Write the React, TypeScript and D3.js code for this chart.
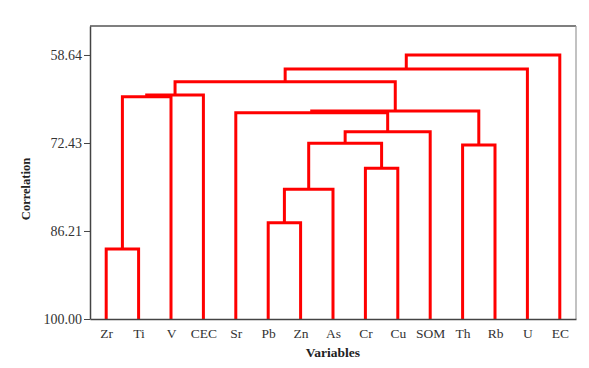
import React, { useEffect, useRef } from "react";
import { select, scaleLinear, scalePoint, axisLeft, axisBottom } from "d3";

// leaf order along the x axis
const variables = ["Zr", "Ti", "V", "CEC", "Sr", "Pb", "Zn", "As", "Cr", "Cu", "SOM", "Th", "Rb", "U", "EC"];

// merges: ids 0..14 are leaves, each merge creates id 15, 16, ...
const mergeLeft = [0, 5, 16, 8, 11, 17, 20, 4, 22, 15, 24, 25, 26, 27];
const mergeRight = [1, 6, 7, 9, 12, 18, 10, 21, 19, 2, 3, 23, 13, 14];
const mergeLevel = [89.03, 84.91, 79.68, 76.39, 72.74, 72.48, 70.65, 67.68, 67.41, 65.17, 64.91, 62.82, 60.83, 58.64];

const yTicks = [58.64, 72.43, 86.21, 100.0];

export default function App() {
  const svgRef = useRef(null);

  useEffect(() => {
    const W = 589;
    const H = 368;
    const M = { left: 90, right: 13, top: 26, bottom: 49 };

    const svg = select(svgRef.current);
    svg.selectAll("*").remove();
    svg.attr("width", W).attr("height", H);

    const xScale = scalePoint().domain(variables).range([M.left, W - M.right]).padding(0.5);
    const yScale = scaleLinear().domain([100, 54.1]).range([H - M.bottom, M.top]);

    // node positions
    const nodeX = variables.map((v) => xScale(v));
    const nodeLevel = variables.map(() => 100);
    mergeLeft.forEach((a, i) => {
      const b = mergeRight[i];
      nodeX.push((nodeX[a] + nodeX[b]) / 2);
      nodeLevel.push(mergeLevel[i]);
    });

    // frame
    svg.append("line")
      .attr("x1", M.left).attr("x2", W - M.right)
      .attr("y1", M.top).attr("y2", M.top)
      .attr("stroke", "#555").attr("stroke-width", 1.5);
    svg.append("line")
      .attr("x1", W - M.right).attr("x2", W - M.right)
      .attr("y1", M.top).attr("y2", H - M.bottom)
      .attr("stroke", "#999").attr("stroke-width", 1.2);

    // links
    const g = svg.append("g");
    mergeLeft.forEach((a, i) => {
      const b = mergeRight[i];
      const yh = yScale(mergeLevel[i]);
      const d = `M${nodeX[a]},${yScale(nodeLevel[a])}V${yh}H${nodeX[b]}V${yScale(nodeLevel[b])}`;
      g.append("path")
        .attr("d", d)
        .attr("fill", "none")
        .attr("stroke", "#f00")
        .attr("stroke-width", 3)
        .attr("stroke-linejoin", "miter");
    });

    // axes
    const yAxis = svg.append("g")
      .attr("transform", `translate(${M.left},0)`)
      .call(axisLeft(yScale).tickValues(yTicks).tickFormat((d) => d.toFixed(2)).tickSize(6).tickSizeOuter(0));
    yAxis.select(".domain").attr("stroke", "#444").attr("stroke-width", 1.5);
    yAxis.selectAll(".tick line").attr("stroke", "#444");
    yAxis.selectAll(".tick text")
      .attr("font-family", "'Liberation Serif', serif")
      .attr("font-size", 14)
      .attr("fill", "#333")
      .attr("x", -8);

    const xAxis = svg.append("g")
      .attr("transform", `translate(0,${H - M.bottom})`)
      .call(axisBottom(xScale).tickSize(0).tickSizeOuter(0));
    xAxis.select(".domain").attr("stroke", "#444").attr("stroke-width", 1.5);
    xAxis.selectAll(".tick text")
      .attr("font-family", "'Liberation Serif', serif")
      .attr("font-size", 13.5)
      .attr("fill", "#333")
      .attr("dy", "0")
      .attr("y", 19);

    // axis titles
    svg.append("text")
      .text("Variables")
      .attr("x", (M.left + W - M.right) / 2)
      .attr("y", 357)
      .attr("text-anchor", "middle")
      .attr("font-family", "'Liberation Serif', serif")
      .attr("font-weight", "bold")
      .attr("font-size", 13.5)
      .attr("fill", "#222");

    svg.append("text")
      .text("Correlation")
      .attr("transform", "translate(30,189) rotate(-90)")
      .attr("text-anchor", "middle")
      .attr("font-family", "'Liberation Serif', serif")
      .attr("font-weight", "bold")
      .attr("font-size", 12.5)
      .attr("fill", "#222");
  }, []);

  return (
    <>
      <svg ref={svgRef} style={{ position: "absolute", left: 0, top: 0, background: "#fff" }}></svg>
    </>
  );
}
